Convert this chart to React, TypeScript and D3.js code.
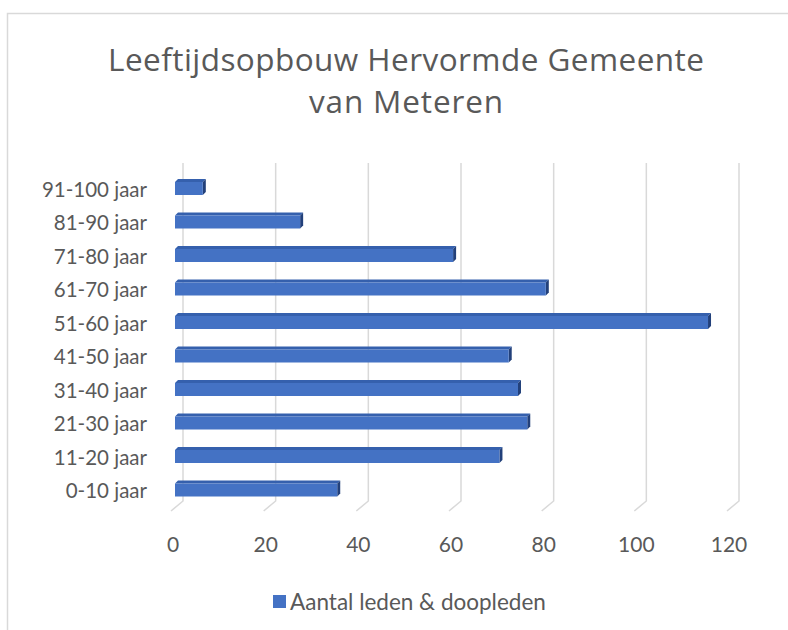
import React from "react";
import * as d3 from "d3";

const categories = ["0-10 jaar", "11-20 jaar", "21-30 jaar", "31-40 jaar", "41-50 jaar", "51-60 jaar", "61-70 jaar", "71-80 jaar", "81-90 jaar", "91-100 jaar"];
const values = [35, 70, 76, 74, 72, 115, 80, 60, 27, 6];
const ticks = [0, 20, 40, 60, 80, 100, 120];
const titleLines = ["Leeftijdsopbouw Hervormde Gemeente", "van Meteren"];
const seriesName = "Aantal leden & doopleden";

const W = 788, H = 630;
const FONT = "Lato, 'Open Sans', sans-serif";
const TXT = "#595959";

export default function App() {
  const xBack = d3.scaleLinear().domain([0, 120]).range([183, 739]);
  const xBar = d3.scaleLinear().domain([0, 120]).range([175, 731.2]);
  const y = d3.scaleBand<string>().domain([...categories].reverse()).range([171.75, 506.75]);
  const gridTop = 163, gridBottom = 501;
  const diagDx = -12, diagDy = 10;
  const barH = 13, dx = 3, dy = -3;
  const titleWidths = [596, 194];

  return (
    <svg width={W} height={H} style={{ position: "absolute", left: 0, top: 0, background: "#fff" }} fontFamily={FONT}>
      <rect x={0} y={0} width={W} height={H} fill="#fff" />
      <rect x={7.5} y={13.5} width={W + 20} height={H + 20} fill="#fff" stroke="#d9d9d9" strokeWidth={1.5} />
      {titleLines.map((t, i) => (
        <text key={i} x={406 - titleWidths[i] / 2} y={71 + i * 42} fontSize={31.5} fontFamily="'Open Sans', sans-serif"
          textLength={titleWidths[i]} lengthAdjust="spacing" fill={TXT}>{t}</text>
      ))}
      {ticks.map((t) => (
        <g key={t}>
          <polyline
            points={`${xBack(t)},${gridTop} ${xBack(t)},${gridBottom} ${xBack(t) + diagDx},${gridBottom + diagDy}`}
            fill="none" stroke="#d9d9d9" strokeWidth={1.5} />
          <text x={xBack(t) - 10} y={543} textAnchor="middle" dominantBaseline="central" fontSize={21} fill={TXT}>{t}</text>
        </g>
      ))}
      {categories.map((c, i) => {
        const cy = (y(c) as number) + y.bandwidth() / 2;
        const y0 = cy - barH / 2;
        const x0 = xBar(0), x1 = xBar(values[i]);
        return (
          <g key={c}>
            <polygon points={`${x0},${y0} ${x0 + dx},${y0 + dy} ${x1 + dx},${y0 + dy} ${x1},${y0}`} fill="#3560AD" />
            <polygon points={`${x1},${y0} ${x1 + dx},${y0 + dy} ${x1 + dx},${y0 + dy + barH} ${x1},${y0 + barH}`} fill="#22407A" />
            <rect x={x0} y={y0} width={x1 - x0} height={barH} fill="#4472C4" />
            <text x={147} y={cy} textAnchor="end" dominantBaseline="central" fontSize={20.5} fill={TXT}>{c}</text>
          </g>
        );
      })}
      <rect x={273} y={595} width={13} height={13} fill="#4472C4" />
      <text x={290} y={601.5} dominantBaseline="central" fontSize={22.5} fill={TXT}>{seriesName}</text>
    </svg>
  );
}
